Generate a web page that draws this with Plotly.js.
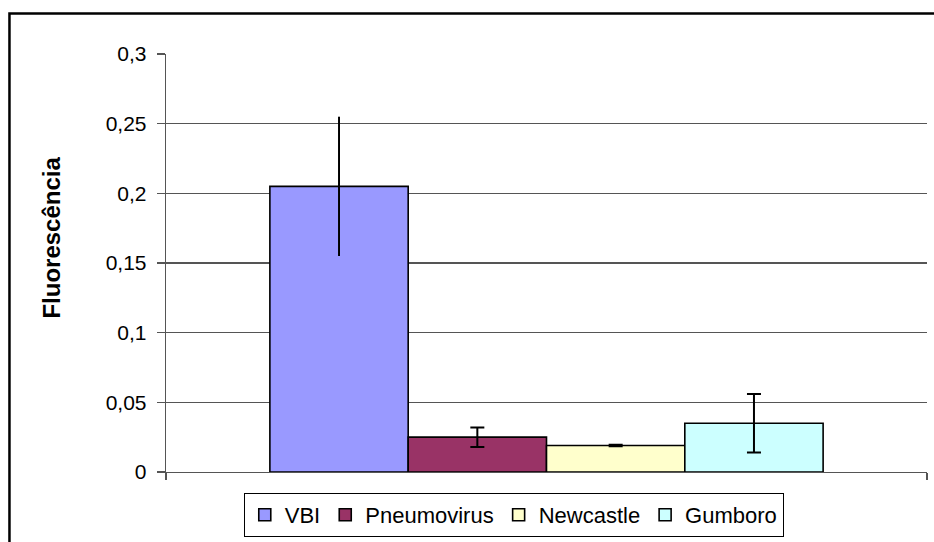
<!DOCTYPE html>
<html>
<head>
<meta charset="utf-8">
<script src="https://cdn.plot.ly/plotly-3.0.1.min.js"></script>
<style>
html,body{margin:0;padding:0;background:#fff;}
#chart{width:934px;height:542px;}
</style>
</head>
<body>
<div id="chart"></div>
<script>
var series = ['VBI', 'Pneumovirus', 'Newcastle', 'Gumboro'];
var values = [0.205, 0.025, 0.019, 0.035];
var errors = [0.050, 0.007, 0.0005, 0.021];
var colors = ['#9999FF', '#993366', '#FFFFCC', '#CCFFFF'];
var capWidths = [0, 7, 7, 7];
var yTickVals = [0, 0.05, 0.1, 0.15, 0.2, 0.25, 0.3];
var yTickText = ['0', '0,05', '0,1', '0,15', '0,2', '0,25', '0,3'];
var yTitle = 'Fluorescência';

var font = 'Liberation Sans, Arial, sans-serif';
var traces = series.map(function (name, i) {
  return {
    type: 'bar',
    name: name,
    x: [0],
    y: [values[i]],
    marker: {color: colors[i], line: {color: '#000', width: 1.6}},
    error_y: {type: 'data', array: [errors[i]], visible: true, color: '#000', thickness: 2, width: capWidths[i]},
    hoverinfo: 'none'
  };
});

var layout = {
  width: 934, height: 542,
  margin: {l: 166, r: 7, t: 54, b: 70, autoexpand: false},
  paper_bgcolor: '#fff', plot_bgcolor: '#fff',
  barmode: 'group', bargap: 0.273, bargroupgap: 0,
  font: {family: font, size: 21, color: '#000'},
  separators: ',.',
  xaxis: {
    type: 'linear', range: [-0.5, 0.5], tickvals: [-0.5, 0.5], showticklabels: false,
    ticks: 'outside', ticklen: 7, tickcolor: '#555', tickwidth: 1.3,
    showline: true, linecolor: '#555', linewidth: 1.3, showgrid: false, zeroline: false, fixedrange: true
  },
  yaxis: {
    range: [0, 0.3], tickvals: yTickVals, ticktext: yTickText,
    ticks: 'outside', ticklen: 8, tickcolor: '#555', tickwidth: 1.3, ticklabelstandoff: 6,
    showline: true, linecolor: '#555', linewidth: 1.3,
    showgrid: true, gridcolor: '#555', gridwidth: 1.3, zeroline: false,
    tickfont: {family: font, size: 21, color: '#000'}
  },
  showlegend: true,
  legend: {
    orientation: 'h', x: 0.457, xanchor: 'center', y: -0.05, yanchor: 'top',
    bordercolor: '#000', borderwidth: 1, bgcolor: '#fff',
    font: {family: font, size: 22, color: '#000'}, traceorder: 'normal',
    itemwidth: 30
  },
  annotations: [{
    text: '<b>' + yTitle + '</b>', textangle: -90, showarrow: false,
    xref: 'paper', yref: 'paper', x: -0.151, y: 0.561, xanchor: 'center', yanchor: 'middle',
    font: {family: font, size: 24, color: '#000'}
  }],
  shapes: [{
    type: 'path', xref: 'paper', yref: 'paper',
    path: 'M -0.2057,-0.25 L -0.2057,1.0969 L 1.02,1.0969',
    line: {color: '#000', width: 2.5}
  }]
};

Plotly.newPlot('chart', traces, layout, {staticPlot: true});
</script>
</body>
</html>
